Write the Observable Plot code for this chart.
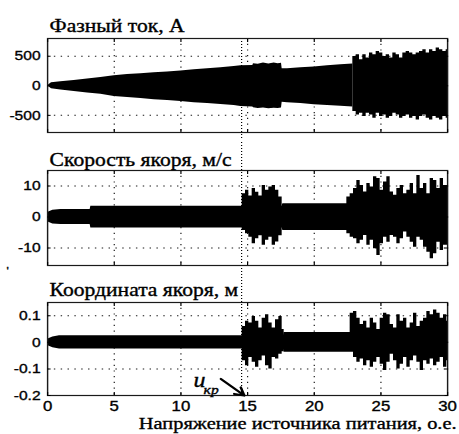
<!DOCTYPE html>
<html lang="ru">
<head>
<meta charset="utf-8">
<script src="https://cdn.jsdelivr.net/npm/d3@7"></script>
<script src="https://cdn.jsdelivr.net/npm/@observablehq/plot@0.6"></script>
<style>
  html, body { margin: 0; padding: 0; background: #fff; }
  #chart { width: 459px; height: 434px; overflow: hidden; background: #fff; }
  #chart svg { display: block; overflow: hidden; transform: scaleX(1.2); transform-origin: 0 0; background: #fff; }
  #chart svg text { stroke: #000; stroke-width: 0.35px; paint-order: stroke; }
</style>
</head>
<body>
<div id="chart"></div>
<script>
// ---------- texts & ticks ----------
const titles = ["Фазный ток, А", "Скорость якоря, м/с", "Координата якоря, м"];
const xAxisLabel = "Напряжение источника питания, о.е.";
const xTicks = [0, 5, 10, 15, 20, 25, 30];
const xGrid = [5, 10, 15, 20, 25];
const curTicks = [-500, 0, 500];
const velTicks = [-10, 0, 10];
const posTicks = [-0.2, -0.1, 0, 0.1];
const uCritical = [14.55];
const ucrLabel = ["u", "кр"];
const ucrLabelX = [10.95, 11.7];
const ucrLabelY = [-0.168, -0.196];
const arrowStart = [13.0, -0.138];
const arrowEnd = [14.75, -0.2];

// ---------- panel 1: phase current, A (envelope of the oscillation) ----------
const curX  = [0, 0.3, 1, 2, 3, 4, 5, 6, 7, 8, 9, 10, 11, 12, 13, 14, 14.5, 15.4, 15.45, 15.8, 16.2, 16.6, 17.0, 17.3, 17.55, 17.6, 18, 19, 20, 21, 22, 22.9];
const curHi = [0, 50, 70, 90, 115, 140, 170, 190, 205, 220, 235, 250, 270, 290, 305, 325, 340, 345, 375, 365, 385, 370, 385, 375, 380, 290, 290, 305, 320, 340, 355, 370];
const curLo = [0, -50, -70, -95, -120, -145, -180, -200, -215, -235, -250, -265, -285, -300, -315, -335, -350, -360, -370, -385, -375, -390, -380, -385, -375, -280, -285, -300, -320, -335, -345, -360];
const curBurstX  = [22.9, 23.15, 23.4, 23.65, 23.9, 24.15, 24.4, 24.65, 24.9, 25.15, 25.4, 25.65, 25.9, 26.15, 26.4, 26.65, 26.9, 27.15, 27.4, 27.65, 27.9, 28.15, 28.4, 28.65, 28.9, 29.15, 29.4, 29.65, 29.9, 30];
const curBurstHi = [497, 525, 441, 525, 469, 553, 525, 582, 553, 497, 525, 469, 553, 525, 469, 553, 582, 553, 525, 553, 582, 610, 553, 610, 582, 638, 610, 582, 610, 610];
const curBurstLo = [-435, -492, -464, -520, -464, -492, -548, -464, -520, -492, -548, -520, -464, -492, -548, -520, -492, -548, -520, -577, -520, -492, -548, -577, -520, -548, -577, -520, -548, -548];

// ---------- panel 2: armature speed, m/s ----------
const velX  = [0, 0.4, 1, 3.2, 3.25, 17.6, 17.65, 30];
const velHi = [1.5, 2.2, 2.4, 2.4, 3.5, 3.5, 4.3, 4.3];
const velLo = [-1.5, -2.2, -2.4, -2.4, -3.5, -3.5, -4.3, -4.3];
const velBurst1X  = [14.6, 14.85, 15.1, 15.35, 15.6, 15.85, 16.1, 16.35, 16.6, 16.85, 17.1, 17.35, 17.6];
const velBurst1Hi = [7.5, 8.6, 6.8, 9.2, 8.0, 6.8, 10.2, 8.6, 9.7, 10.2, 8.6, 6.5, 4.3];
const velBurst1Lo = [-4.3, -5.4, -6.5, -8.6, -7.0, -6.0, -9.1, -7.5, -6.5, -9.1, -8.0, -6.0, -4.3];
const velBurst2X  = [22.45, 22.7, 22.95, 23.2, 23.45, 23.7, 23.95, 24.2, 24.45, 24.7, 24.95, 25.2, 25.45, 25.7, 25.95, 26.2, 26.45, 26.7, 26.95, 27.2, 27.45, 27.7, 27.95, 28.2, 28.45, 28.7, 28.95, 29.2, 29.45, 29.7, 30];
const velBurst2Hi = [6.5, 7.5, 9.2, 11.8, 10.2, 8.1, 10.8, 9.7, 13.0, 12.4, 8.6, 11.3, 13.0, 8.1, 7.0, 9.2, 10.2, 7.5, 8.6, 10.8, 7.5, 13.4, 9.2, 10.8, 7.5, 12.4, 11.8, 9.2, 12.4, 10.2, 10.2];
const velBurst2Lo = [-5.4, -6.5, -7.0, -8.6, -7.5, -5.9, -9.1, -7.5, -10.2, -12.4, -8.6, -6.5, -8.1, -5.9, -6.5, -8.6, -7.0, -4.8, -6.5, -8.1, -9.7, -6.5, -7.5, -9.7, -11.3, -13.4, -11.8, -8.1, -10.8, -9.1, -9.1];

// ---------- panel 3: armature coordinate, m ----------
const posX  = [0, 0.4, 0.9, 17.7, 17.75, 30];
const posHi = [0.012, 0.02, 0.025, 0.025, 0.037, 0.037];
const posLo = [-0.012, -0.02, -0.025, -0.025, -0.037, -0.037];
const posBurst1X  = [14.6, 14.85, 15.1, 15.35, 15.6, 15.85, 16.1, 16.35, 16.6, 16.85, 17.1, 17.35, 17.6, 17.75];
const posBurst1Hi = [0.060, 0.079, 0.073, 0.097, 0.079, 0.054, 0.091, 0.104, 0.073, 0.054, 0.085, 0.097, 0.048, 0.037];
const posBurst1Lo = [-0.069, -0.088, -0.057, -0.075, -0.094, -0.069, -0.051, -0.088, -0.1, -0.057, -0.063, -0.045, -0.035, -0.037];
const posBurst2X  = [22.7, 22.95, 23.2, 23.45, 23.7, 23.95, 24.2, 24.45, 24.7, 24.95, 25.2, 25.45, 25.7, 25.95, 26.2, 26.45, 26.7, 26.95, 27.2, 27.45, 27.7, 27.95, 28.2, 28.45, 28.7, 28.95, 29.2, 29.45, 29.7, 29.95, 30];
const posBurst2Hi = [0.110, 0.116, 0.091, 0.067, 0.079, 0.054, 0.091, 0.073, 0.048, 0.091, 0.110, 0.104, 0.067, 0.054, 0.104, 0.079, 0.091, 0.054, 0.073, 0.110, 0.060, 0.079, 0.091, 0.116, 0.104, 0.122, 0.110, 0.091, 0.104, 0.079, 0.079];
const posBurst2Lo = [-0.032, -0.057, -0.075, -0.063, -0.088, -0.069, -0.094, -0.075, -0.057, -0.082, -0.106, -0.075, -0.045, -0.069, -0.1, -0.082, -0.057, -0.094, -0.069, -0.051, -0.075, -0.106, -0.069, -0.082, -0.063, -0.088, -0.075, -0.057, -0.094, -0.069, -0.069];

// ---------- drawing ----------
const S = 1.2;                 // the original figure is stretched horizontally
const u = px => px / S;        // screen px -> unscaled px
const W = 459 / S;
const SERIF = "Liberation Serif";

function signal(xs, lo, hi) { return xs.map((x, i) => ({x, lo: lo[i], hi: hi[i]})); }

function panel(cfg) {
  const dotted = {stroke: "#000", strokeOpacity: 0.9, strokeWidth: 1, strokeDasharray: "1.2,4.5"};
  const marks = [
    Plot.gridX(xGrid, dotted),
    Plot.gridY(cfg.grid, dotted),
    Plot.areaY(signal(cfg.x, cfg.lo, cfg.hi), {x: "x", y1: "lo", y2: "hi", fill: "#000", curve: "linear"}),
    ...cfg.bursts.map(b => Plot.areaY(signal(b[0], b[2], b[1]), {x: "x", y1: "lo", y2: "hi", fill: "#000", curve: "step-after"})),
    Plot.ruleX(uCritical, {x: d => d, y1: cfg.ruleFrom, y2: cfg.ruleTo, stroke: "#000", strokeWidth: 1, strokeDasharray: "1,2"}),
    Plot.frame({stroke: "#1a1a1a", strokeWidth: 1.2}),
    Plot.axisY(cfg.ticks, {anchor: "left", tickSize: 0, tickPadding: u(7), tickFormat: d => String(d), label: null}),
    Plot.axisY(cfg.ticks, {anchor: "left", tickSize: -3, tickFormat: () => "", label: null}),
    Plot.axisY(cfg.ticks, {anchor: "right", tickSize: -3, tickFormat: () => "", label: null}),
    Plot.axisX(xTicks, {anchor: "bottom", tickSize: -3, tickFormat: () => "", label: null}),
    Plot.axisX(xTicks, {anchor: "top", tickSize: -3, tickFormat: () => "", label: null}),
    Plot.text([cfg.title], {text: d => d, frameAnchor: "top-left", textAnchor: "start", lineAnchor: "bottom",
      dx: u(2), dy: cfg.titleDy, fontFamily: SERIF, fontSize: 18, fill: "#000"}),
    ...(cfg.extra || [])
  ];
  return Plot.plot({
    width: W, height: cfg.height,
    marginLeft: u(47), marginRight: u(12), marginTop: cfg.marginTop, marginBottom: cfg.marginBottom,
    x: {domain: [0, 30], label: null},
    y: {domain: cfg.domain, label: null},
    style: {fontFamily: "'Liberation Sans', Arial, Helvetica, sans-serif", fontSize: "13px", color: "#000", background: "#fff"},
    marks
  });
}

const chart = document.getElementById("chart");

chart.append(panel({
  title: titles[0], titleDy: -7, height: 140, marginTop: 38, marginBottom: 8,
  domain: [-790, 800], ticks: curTicks, grid: curTicks,
  x: curX, hi: curHi, lo: curLo,
  bursts: [[curBurstX, curBurstHi, curBurstLo]],
  ruleFrom: -5000, ruleTo: 800
}));

chart.append(panel({
  title: titles[1], titleDy: -5, height: 140, marginTop: 30, marginBottom: 15,
  domain: [-15.6, 15], ticks: velTicks, grid: velTicks,
  x: velX, hi: velHi, lo: velLo,
  bursts: [[velBurst1X, velBurst1Hi, velBurst1Lo], [velBurst2X, velBurst2Hi, velBurst2Lo]],
  ruleFrom: -100, ruleTo: 100,
  extra: [Plot.text(["'"], {text: d => d, frameAnchor: "bottom-left", textAnchor: "start", lineAnchor: "bottom",
    dx: u(-41), dy: 9, fontSize: 10, fill: "#000"})]
}));

chart.append(panel({
  title: titles[2], titleDy: -7, height: 154, marginTop: 22, marginBottom: 39,
  domain: [-0.2, 0.15], ticks: posTicks, grid: [-0.1, 0, 0.1],
  x: posX, hi: posHi, lo: posLo,
  bursts: [[posBurst1X, posBurst1Hi, posBurst1Lo], [posBurst2X, posBurst2Hi, posBurst2Lo]],
  ruleFrom: -0.2, ruleTo: 1,
  extra: [
    Plot.axisX(xTicks, {anchor: "bottom", tickSize: 0, tickPadding: 6, tickFormat: d => String(d), label: null, fontSize: 14}),
    Plot.text([xAxisLabel], {text: d => d, frameAnchor: "bottom-right", textAnchor: "end", lineAnchor: "bottom",
      dx: u(9), dy: 33, fontFamily: SERIF, fontSize: 17, fill: "#000"}),
    Plot.arrow([0], {x1: () => arrowStart[0], y1: () => arrowStart[1], x2: () => arrowEnd[0], y2: () => arrowEnd[1],
      stroke: "#000", strokeWidth: 2.2, headLength: 8}),
    Plot.text([ucrLabel[0]], {text: d => d, x: () => ucrLabelX[0], y: () => ucrLabelY[0], textAnchor: "start", lineAnchor: "bottom",
      fontFamily: SERIF, fontStyle: "italic", fontSize: 20, fill: "#000"}),
    Plot.text([ucrLabel[1]], {text: d => d, x: () => ucrLabelX[1], y: () => ucrLabelY[1], textAnchor: "start", lineAnchor: "bottom",
      fontFamily: SERIF, fontStyle: "italic", fontSize: 13, fill: "#000"})
  ]
}));
</script>
</body>
</html>
